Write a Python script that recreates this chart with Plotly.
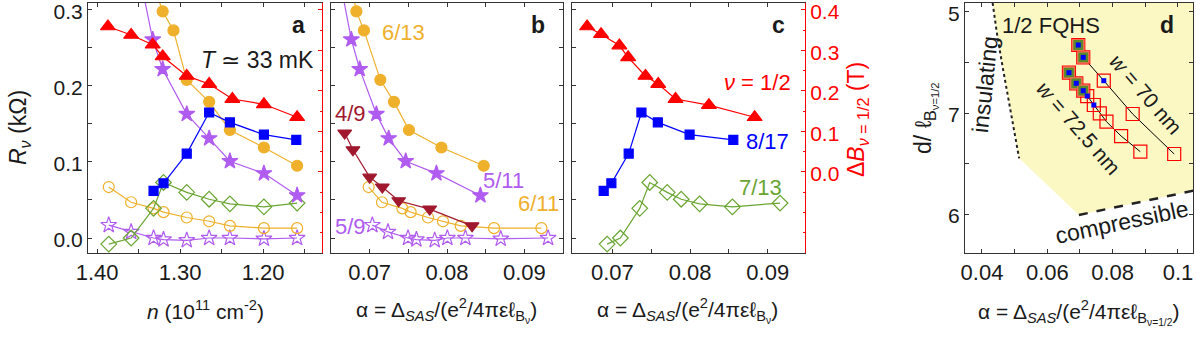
import plotly.graph_objects as go

W, H = 1196, 338

# ---- panel a: versus density n (1e11 cm^-2)
n_12 = [1.387, 1.359, 1.333, 1.321, 1.292, 1.265, 1.237, 1.199, 1.159]
dB_12_a = [0.359, 0.338, 0.314, 0.285, 0.237, 0.217, 0.180, 0.167, 0.135]
n_817 = [1.332, 1.320, 1.292, 1.265, 1.240, 1.199, 1.160]
R_817 = [0.062, 0.072, 0.111, 0.165, 0.152, 0.136, 0.129]
n_613 = [1.359, 1.321, 1.308, 1.292, 1.265, 1.240, 1.199, 1.159]
R_613 = [0.420, 0.298, 0.273, 0.208, 0.179, 0.142, 0.119, 0.095]
n_511 = [1.359, 1.333, 1.321, 1.292, 1.265, 1.240, 1.199, 1.159]
R_511 = [0.400, 0.261, 0.222, 0.163, 0.131, 0.101, 0.085, 0.056]
n_low = [1.386, 1.359, 1.332, 1.320, 1.292, 1.265, 1.240, 1.199, 1.159]
R_713 = [-0.008, 0.000, 0.039, 0.073, 0.060, 0.051, 0.045, 0.041, 0.046]
R_611 = [0.067, 0.047, 0.039, 0.034, 0.027, 0.022, 0.016, 0.013, 0.013]
R_59 = [0.017, 0.008, 0.000, -0.002, -0.003, 0.000, 0.000, -0.001, 0.000]

# ---- panel b: versus alpha
al_613 = [0.0660, 0.06828, 0.06926, 0.07138, 0.07314, 0.07508, 0.07928, 0.08475]
al_511 = [0.0650, 0.06763, 0.06871, 0.07087, 0.07246, 0.07466, 0.07863, 0.08432]
al_49 = [0.06677, 0.06784, 0.07000, 0.07164, 0.07375, 0.07776, 0.08324]
R_49 = [0.138, 0.116, 0.080, 0.067, 0.049, 0.038, 0.016]
al_611 = [0.06987, 0.07159, 0.07423, 0.07530, 0.07754, 0.07948, 0.08177, 0.08608, 0.09221]
al_59 = [0.07035, 0.07237, 0.07496, 0.07604, 0.07841, 0.08005, 0.08238, 0.08695, 0.09307]

# ---- panel c: versus alpha
al_12 = [0.06674, 0.06854, 0.07090, 0.07203, 0.07426, 0.07590, 0.07813, 0.08243, 0.08832]
dB_12_c = [0.359, 0.340, 0.312, 0.283, 0.237, 0.217, 0.180, 0.165, 0.135]
al_817 = [0.06888, 0.06987, 0.07210, 0.07374, 0.07585, 0.07994, 0.08557]
al_713 = [0.06932, 0.07103, 0.07352, 0.07481, 0.07706, 0.07886, 0.08123, 0.08545, 0.09159]

# ---- panel d: phase diagram
w70_al = [0.06948, 0.07100, 0.07729, 0.08613, 0.09884]
w70_d = [7.673, 7.551, 7.320, 6.990, 6.594]
w725_al = [0.06662, 0.06887, 0.07100, 0.07222, 0.07424, 0.07607, 0.07811, 0.08259, 0.08848]
w725_d = [7.399, 7.294, 7.221, 7.168, 7.079, 6.997, 6.914, 6.772, 6.617]
n_green_70, n_blue_70 = 2, 3
n_green_725, n_blue_725 = 3, 5
ins_al = [0.04326, 0.04457, 0.04631, 0.04814, 0.04985, 0.05137]
ins_d = [8.090, 7.789, 7.458, 7.129, 6.799, 6.551]
comp_al = [0.06967, 0.1060]
comp_d = [5.990, 6.240]

RED = "#ff0000"
BLUE = "#0000ff"
ORANGE = "#efb02c"
PURPLE = "#b05cf0"
GREEN = "#6aa532"
DKRED = "#a0182e"
FRAME = "#333333"
FONT = "Liberation Sans, Arial, sans-serif"
TXT = "#1a1a1a"

R_RANGE = [-0.0197, 0.309]
DB_RANGE = [-0.200, 0.417]


def fx(p):
    return p / W


def fy(p):
    return 1 - p / H


fig = go.Figure()


def series(x, y, color, symbol, size, xa, ya, lw=1.2, mlw=1.2):
    fig.add_trace(go.Scatter(
        x=x, y=y, xaxis=xa, yaxis=ya, mode="lines+markers",
        line=dict(color=color, width=lw),
        marker=dict(color=color, symbol=symbol, size=size,
                    line=dict(color=color, width=mlw)),
        cliponaxis=True, showlegend=False,
    ))


# panel a
series(n_low, R_59, PURPLE, "star-open", 12, "x", "y")
series(n_low, R_611, ORANGE, "circle-open", 11, "x", "y")
series(n_low, R_713, GREEN, "diamond-open", 12, "x", "y")
series(n_511, R_511, PURPLE, "star", 12, "x", "y")
series(n_613, R_613, ORANGE, "circle", 11, "x", "y")
series(n_817, R_817, BLUE, "square", 9, "x", "y")
series(n_12, dB_12_a, RED, "triangle-up", 13, "x", "y5")

# panel b
series(al_59, R_59, PURPLE, "star-open", 12, "x2", "y2")
series(al_611, R_611, ORANGE, "circle-open", 11, "x2", "y2")
series(al_49, R_49, DKRED, "triangle-down", 12, "x2", "y2")
series(al_511, R_511, PURPLE, "star", 12, "x2", "y2")
series(al_613, R_613, ORANGE, "circle", 11, "x2", "y2")

# panel c
series(al_713, R_713, GREEN, "diamond-open", 12, "x3", "y3")
series(al_817, R_817, BLUE, "square", 9, "x3", "y3")
series(al_12, dB_12_c, RED, "triangle-up", 13, "x3", "y4")

# panel d
fig.add_trace(go.Scatter(
    x=ins_al + comp_al + [comp_al[-1], ins_al[0]],
    y=ins_d + comp_d + [8.2, 8.2],
    xaxis="x4", yaxis="y6", mode="lines", fill="toself",
    fillcolor="#fbf8c4", line=dict(width=0), showlegend=False, hoverinfo="skip",
))
fig.add_trace(go.Scatter(
    x=ins_al, y=ins_d, xaxis="x4", yaxis="y6", mode="lines",
    line=dict(color="#222222", width=2, dash="dot"), showlegend=False,
))
fig.add_trace(go.Scatter(
    x=comp_al, y=comp_d, xaxis="x4", yaxis="y6", mode="lines",
    line=dict(color="#222222", width=2.5, dash="dash"), showlegend=False,
))
for al, d, ng, nb in [(w70_al, w70_d, n_green_70, n_blue_70),
                      (w725_al, w725_d, n_green_725, n_blue_725)]:
    fig.add_trace(go.Scatter(
        x=al, y=d, xaxis="x4", yaxis="y6", mode="lines+markers",
        line=dict(color="black", width=1),
        marker=dict(symbol="square-open", size=13, color=RED, line=dict(width=1.2, color=RED)),
        showlegend=False,
    ))
    fig.add_trace(go.Scatter(
        x=al[:ng], y=d[:ng], xaxis="x4", yaxis="y6", mode="markers",
        marker=dict(symbol="square", size=11, color="#5a8a2a", line=dict(width=1.2, color="#f07050")),
        showlegend=False,
    ))
    fig.add_trace(go.Scatter(
        x=al[:nb], y=d[:nb], xaxis="x4", yaxis="y6", mode="markers",
        marker=dict(symbol="square", size=5, color=BLUE, line=dict(width=0)),
        showlegend=False,
    ))

# axes
ydom = [fy(253), fy(3)]
common = dict(showline=True, linecolor=FRAME, linewidth=1, ticks="inside",
              ticklen=4, tickcolor=FRAME, showgrid=False, zeroline=False,
              tickfont=dict(family=FONT, size=22, color=TXT),
              automargin=False, ticklabeloverflow="allow")
ycommon = dict(common, tickfont=dict(family=FONT, size=21, color=TXT), ticklabelshift=2)
red_axis = dict(showline=True, linecolor=RED, linewidth=1, ticks="inside", ticklen=4,
                tickcolor=RED, tickvals=[0, 0.1, 0.2, 0.3, 0.4],
                minor=dict(ticks="inside", ticklen=2.5, tickcolor=RED, dtick=0.05, tick0=0),
                showgrid=False, zeroline=False, automargin=False, range=DB_RANGE,
                ticklabeloverflow="allow", ticklabelshift=2)

fig.update_layout(
    width=W, height=H, margin=dict(l=0, r=0, t=0, b=0, autoexpand=False),
    paper_bgcolor="white", plot_bgcolor="white",
    font=dict(family=FONT, size=22, color=TXT),
    xaxis=dict(domain=[fx(88), fx(322)], range=[1.411, 1.129], anchor="y",
               tickvals=[1.40, 1.35, 1.30, 1.25, 1.20, 1.15],
               ticktext=["1.40", "", "1.30", "", "1.20", ""], mirror="ticks", **common),
    yaxis=dict(domain=ydom, range=R_RANGE, anchor="x",
               tickvals=[0, 0.05, 0.1, 0.15, 0.2, 0.25, 0.3],
               ticktext=["0.0", "", "0.1", "", "0.2", "", "0.3"], **ycommon),
    yaxis5=dict(overlaying="y", anchor="x", side="right", showticklabels=False, **red_axis),
    xaxis2=dict(domain=[fx(331), fx(563)], range=[0.0650, 0.0950], anchor="y2",
                tickvals=[0.07, 0.075, 0.08, 0.085, 0.09],
                ticktext=["0.07", "", "0.08", "", "0.09"], mirror="ticks", **common),
    yaxis2=dict(domain=ydom, range=R_RANGE, anchor="x2", mirror="ticks",
                tickvals=[0, 0.05, 0.1, 0.15, 0.2, 0.25, 0.3], showticklabels=False, **ycommon),
    xaxis3=dict(domain=[fx(572), fx(805)], range=[0.0648, 0.0948], anchor="y3",
                tickvals=[0.07, 0.075, 0.08, 0.085, 0.09],
                ticktext=["0.07", "", "0.08", "", "0.09"], mirror="ticks", **common),
    yaxis3=dict(domain=ydom, range=R_RANGE, anchor="x3",
                tickvals=[0, 0.05, 0.1, 0.15, 0.2, 0.25, 0.3], showticklabels=False, **ycommon),
    yaxis4=dict(overlaying="y3", anchor="x3", side="right",
                ticktext=["0.0", "0.1", "0.2", "0.3", "0.4"],
                tickfont=dict(family=FONT, size=21, color=RED), **red_axis),
    xaxis4=dict(domain=[fx(965), fx(1193)], range=[0.0348, 0.1046], anchor="y6",
                tickvals=[0.04, 0.05, 0.06, 0.07, 0.08, 0.09, 0.10],
                ticktext=["0.04", "", "0.06", "", "0.08", "", "0.1"], mirror="ticks", **common),
    yaxis6=dict(domain=ydom, range=[5.614, 8.089], anchor="x4", mirror="ticks",
                tickvals=[6, 6.5, 7, 7.5, 8], ticktext=["6", "", "7", "", "5"], **ycommon),
)

ann = []


def text(x, y, s, color=TXT, size=22, angle=0, xanchor="center", **kw):
    ann.append(dict(x=fx(x), y=fy(y), xref="paper", yref="paper", text=s,
                    showarrow=False, textangle=angle, xanchor=xanchor, yanchor="middle",
                    font=dict(family=FONT, size=size, color=color), **kw))


# axis titles
text(20, 128, "<i>R</i><sub><i>ν</i></sub> (kΩ)", angle=-90, size=23)
text(205, 310, "<i>n</i> (10<sup>11</sup> cm<sup>-2</sup>)", size=21)
ab = "α = Δ<sub><i>SAS</i></sub>/(e<sup>2</sup>/4πεℓ<sub>B<sub>ν</sub></sub>)"
text(447, 310, ab, size=21)
text(688, 310, ab, size=21)
text(857, 120, "Δ<i>B</i><sub><i>ν</i> = 1/2</sub> (T)", angle=-90, color=RED, size=23)
text(1078, 312, "α = Δ<sub><i>SAS</i></sub>/(e<sup>2</sup>/4πεℓ<sub>B<sub>ν=1/2</sub></sub>)", size=21)
text(925, 118, "d/ ℓ<sub>B<sub>ν=1/2</sub></sub>", angle=-90, size=23)

# panel letters and labels
text(298, 25, "<b>a</b>", size=23)
text(257, 60, "<i>T</i> ≃ 33 mK", size=23)
text(538, 25, "<b>b</b>", size=23)
text(403, 32, "6/13", color=ORANGE)
text(350, 113, "4/9", color=DKRED)
text(503, 180, "5/11", color=PURPLE)
text(538, 203, "6/11", color=ORANGE)
text(350, 226, "5/9", color=PURPLE)
text(778, 25, "<b>c</b>", size=23)
text(757, 82, "<i>ν</i> = 1/2", color=RED)
text(767, 142, "8/17", color=BLUE)
text(760, 188, "7/13", color=GREEN)
text(1051, 25, "1/2 FQHS", size=22)
text(1167, 25, "<b>d</b>", size=23)
text(985, 84, "insulating", angle=-84, size=23)
text(1122, 222, "compressible", angle=-12, size=23)
text(1145, 94, "<i>w</i> = 70 nm", angle=49, size=21)
text(1078, 128, "<i>w</i> = 72.5 nm", angle=49, size=21)

fig.update_layout(annotations=ann)

# the page body has a default 8px margin; remove it so the figure fills the window
fig.write_html("out.html", config={"displayModeBar": False},
               post_script="document.body.style.margin='0px';")
